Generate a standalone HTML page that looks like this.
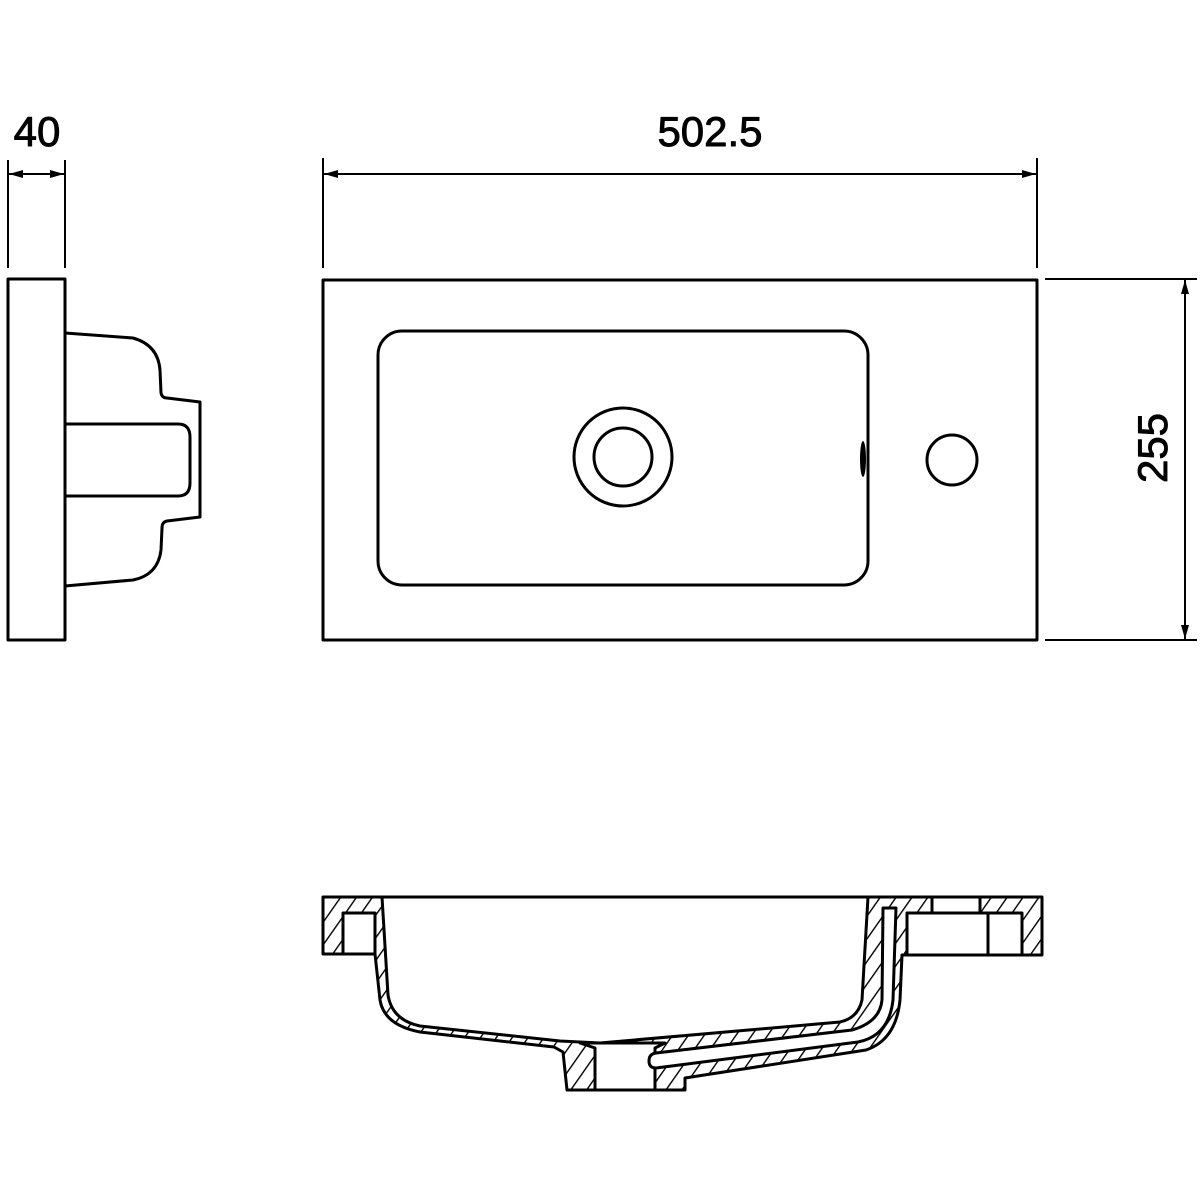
<!DOCTYPE html>
<html><head><meta charset="utf-8"><style>html,body{margin:0;padding:0;background:#fff}svg{display:block}</style></head>
<body>
<svg width="1200" height="1200" viewBox="0 0 1200 1200" xmlns="http://www.w3.org/2000/svg">
<defs>
<pattern id="h" patternUnits="userSpaceOnUse" width="13" height="13" patternTransform="rotate(35)">
<rect width="13" height="13" fill="#fff"/>
<line x1="0" y1="0" x2="0" y2="13" stroke="#000" stroke-width="2.8"/>
</pattern>
<marker id="a" markerWidth="14" markerHeight="8" refX="14" refY="4" orient="auto" markerUnits="userSpaceOnUse">
<path d="M0,0 L14,4 L0,8 Z" fill="#000"/></marker>
<marker id="b" markerWidth="14" markerHeight="8" refX="0" refY="4" orient="auto" markerUnits="userSpaceOnUse">
<path d="M14,0 L0,4 L14,8 Z" fill="#000"/></marker>
</defs>
<g fill="none" stroke="#000" stroke-width="3" stroke-linejoin="round">
<g font-family="Liberation Sans, sans-serif" font-size="42" fill="#000" stroke="#000" stroke-width="0.9" text-anchor="middle">
<text x="37" y="146">40</text>
<text x="710" y="146">502.5</text>
<text transform="translate(1167,448) rotate(-90)">255</text>
</g>
<line x1="8" y1="160" x2="8" y2="268" stroke-width="2"/>
<line x1="65" y1="160" x2="65" y2="268" stroke-width="2"/>
<line x1="9" y1="174" x2="64" y2="174" stroke-width="2" marker-start="url(#b)" marker-end="url(#a)"/>
<line x1="323" y1="158" x2="323" y2="268" stroke-width="2"/>
<line x1="1037" y1="158" x2="1037" y2="268" stroke-width="2"/>
<line x1="324" y1="174" x2="1036" y2="174" stroke-width="2" marker-start="url(#b)" marker-end="url(#a)"/>
<line x1="1045" y1="279" x2="1197" y2="279" stroke-width="2"/>
<line x1="1045" y1="640" x2="1197" y2="640" stroke-width="2"/>
<line x1="1185" y1="280" x2="1185" y2="639" stroke-width="2" marker-start="url(#b)" marker-end="url(#a)"/>

<rect x="8" y="279" width="57" height="361"/>
<path d="M65,333 L133,338 Q158,345 160,370 L161,393 Q162,398 167,398 L200,402 L200,517 L167,521 Q162,522 162,528 L161,550 Q158,575 133,580 L65,586"/>
<path d="M65,424 L178,424 Q190,424 190,437 L190,483 Q190,496 178,496 L65,496"/>

<rect x="323" y="280" width="714" height="360"/>
<rect x="378" y="331" width="490" height="254" rx="24"/>
<circle cx="623" cy="457" r="49"/>
<circle cx="623" cy="457" r="29"/>
<circle cx="952" cy="460" r="25"/>
<ellipse cx="863" cy="459" rx="3" ry="18" fill="#000" stroke="none"/>

<path d="M323,897 L1042,897 L1042,955 L902,955 L900,1000 Q896,1040 866,1050 L685,1078 L685,1090 L567,1090 L563,1052 L554,1047 L420,1032 Q384,1025 380,1000 L375,954 L323,954 Z" fill="url(#h)"/>
<path d="M382,897 L868,897 L862,1000 Q858,1018 840,1022 L600,1043 L560,1041 L420,1026 Q392,1020 388,995 Z" fill="#fff"/>
<rect x="343" y="913" width="32" height="41" fill="#fff"/>
<rect x="907" y="913" width="115" height="42" fill="#fff"/>
<line x1="988" y1="913" x2="988" y2="955"/>
<rect x="932" y="897" width="48" height="16" fill="#fff"/>
<path d="M580,1043 L665,1043 L655,1048 L655,1090 L595,1090 L595,1048 Z" fill="#fff"/>
<path d="M883,908 L896,908 L893,1000 Q889,1036 858,1042 L656,1068 Q649,1068 649,1061 Q649,1054 656,1053 L852,1030 Q880,1022 882,1000 Z" fill="#fff"/>
</g>
</svg>
</body></html>
